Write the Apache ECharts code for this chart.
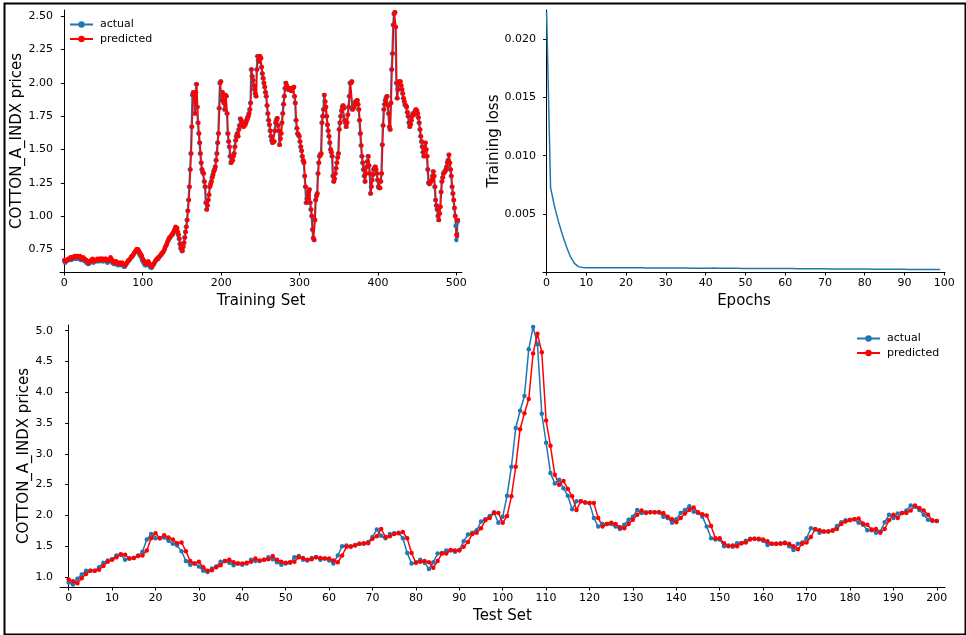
<!DOCTYPE html>
<html>
<head>
<meta charset="utf-8">
<script src="https://cdn.jsdelivr.net/npm/echarts@6/dist/echarts.min.js"></script>
<style>
  html, body { margin: 0; padding: 0; background: #fff; }
  #main { width: 966px; height: 635px; }
</style>
</head>
<body>
<div id="main"></div>
<script>
// training set (index 0..502)
var trainActual = [
  0.66,0.65,0.66,0.66,0.67,0.67,0.67,0.68,0.68,0.67,
  0.68,0.68,0.69,0.69,0.68,0.69,0.69,0.68,0.68,0.69,
  0.68,0.67,0.67,0.68,0.67,0.67,0.66,0.66,0.65,0.65,
  0.64,0.64,0.65,0.66,0.66,0.67,0.66,0.65,0.66,0.66,
  0.66,0.67,0.66,0.66,0.67,0.67,0.66,0.67,0.67,0.66,
  0.66,0.67,0.67,0.66,0.66,0.65,0.66,0.67,0.68,0.67,
  0.66,0.65,0.65,0.64,0.64,0.65,0.64,0.64,0.63,0.64,
  0.64,0.63,0.64,0.64,0.63,0.63,0.62,0.62,0.63,0.64,
  0.65,0.66,0.66,0.67,0.68,0.69,0.69,0.70,0.71,0.72,
  0.73,0.74,0.74,0.74,0.73,0.72,0.71,0.70,0.69,0.67,
  0.66,0.65,0.64,0.63,0.63,0.64,0.65,0.64,0.63,0.62,
  0.62,0.61,0.62,0.63,0.64,0.65,0.66,0.67,0.67,0.68,
  0.68,0.69,0.70,0.71,0.71,0.72,0.73,0.74,0.76,0.77,
  0.78,0.80,0.81,0.83,0.83,0.84,0.85,0.86,0.86,0.88,
  0.89,0.91,0.90,0.91,0.88,0.86,0.83,0.79,0.76,0.75,
  0.735,0.77,0.80,0.84,0.88,0.92,0.97,1.04,1.12,1.22,
  1.35,1.47,1.67,1.91,1.93,1.88,1.77,1.93,1.99,1.82,
  1.70,1.62,1.55,1.47,1.40,1.35,1.33,1.32,1.26,1.22,
  1.10,1.05,1.08,1.12,1.16,1.22,1.24,1.26,1.29,1.31,
  1.335,1.35,1.37,1.42,1.47,1.55,1.62,1.81,2.00,2.01,
  1.87,1.93,1.91,1.85,1.80,1.91,1.90,1.77,1.62,1.56,
  1.52,1.45,1.40,1.41,1.42,1.45,1.47,1.52,1.57,1.60,
  1.62,1.60,1.65,1.68,1.73,1.72,1.70,1.68,1.67,1.68,
  1.685,1.70,1.72,1.735,1.75,1.77,1.80,1.85,2.10,2.05,
  2.02,1.98,1.95,1.92,1.90,2.10,2.20,2.17,2.16,2.20,
  2.185,2.12,2.07,2.035,2.00,1.97,1.93,1.90,1.83,1.77,
  1.72,1.685,1.64,1.60,1.57,1.55,1.56,1.56,1.64,1.70,
  1.72,1.735,1.68,1.64,1.535,1.58,1.62,1.70,1.77,1.84,
  1.90,1.96,2.00,1.98,1.96,1.95,1.95,1.96,1.96,1.94,
  1.95,1.96,1.97,1.90,1.85,1.72,1.66,1.62,1.61,1.60,
  1.56,1.52,1.49,1.45,1.42,1.40,1.30,1.22,1.10,1.13,
  1.16,1.18,1.20,1.10,1.05,1.00,0.90,0.835,0.82,0.97,
  1.12,1.15,1.17,1.32,1.40,1.45,1.46,1.47,1.70,1.75,
  1.80,1.91,1.86,1.82,1.75,1.685,1.64,1.60,1.55,1.50,
  1.48,1.45,1.30,1.26,1.28,1.32,1.36,1.40,1.44,1.47,
  1.65,1.70,1.75,1.79,1.82,1.83,1.81,1.72,1.70,1.67,
  1.70,1.76,1.82,1.90,2.00,2.00,2.01,1.80,1.81,1.82,
  1.84,1.86,1.86,1.87,1.84,1.80,1.72,1.62,1.53,1.45,
  1.40,1.35,1.30,1.26,1.32,1.37,1.41,1.45,1.38,1.32,
  1.17,1.22,1.27,1.31,1.35,1.36,1.37,1.35,1.32,1.27,
  1.22,1.21,1.21,1.26,1.32,1.535,1.68,1.80,1.84,1.87,
  1.89,1.90,1.83,1.77,1.67,1.65,1.85,2.10,2.22,2.435,
  2.52,2.53,2.42,2.00,1.885,1.95,2.01,2.00,2.01,1.98,
  1.95,1.92,1.885,1.86,1.835,1.83,1.82,1.78,1.75,1.70,
  1.67,1.69,1.72,1.75,1.77,1.76,1.77,1.79,1.80,1.79,
  1.77,1.74,1.70,1.65,1.60,1.56,1.52,1.48,1.45,1.50,
  1.55,1.50,1.45,1.35,1.25,1.24,1.25,1.26,1.27,1.30,
  1.335,1.30,1.22,1.12,1.08,1.05,1.00,0.97,1.02,1.07,
  1.18,1.26,1.29,1.32,1.33,1.335,1.35,1.37,1.40,1.42,
  1.46,1.40,1.35,1.30,1.22,1.17,1.12,1.06,1.00,0.925,
  0.82,0.87,0.96
];
var trainPredicted = [
  0.67,0.67,0.66,0.67,0.67,0.68,0.68,0.68,0.69,0.69,
  0.68,0.69,0.69,0.70,0.70,0.69,0.70,0.70,0.69,0.69,
  0.70,0.69,0.68,0.68,0.69,0.68,0.68,0.67,0.67,0.66,
  0.66,0.65,0.65,0.66,0.67,0.67,0.68,0.67,0.66,0.67,
  0.67,0.67,0.68,0.67,0.67,0.68,0.68,0.67,0.68,0.68,
  0.67,0.67,0.68,0.68,0.67,0.67,0.66,0.67,0.68,0.69,
  0.68,0.67,0.66,0.66,0.65,0.65,0.66,0.65,0.65,0.64,
  0.65,0.65,0.64,0.65,0.65,0.64,0.64,0.63,0.63,0.64,
  0.65,0.66,0.67,0.67,0.68,0.69,0.70,0.70,0.71,0.72,
  0.73,0.74,0.75,0.75,0.75,0.74,0.73,0.72,0.71,0.70,
  0.68,0.67,0.66,0.65,0.64,0.64,0.65,0.66,0.65,0.64,
  0.63,0.63,0.62,0.63,0.64,0.65,0.66,0.67,0.68,0.68,
  0.69,0.69,0.70,0.71,0.72,0.72,0.73,0.74,0.75,0.77,
  0.78,0.79,0.81,0.82,0.84,0.84,0.85,0.86,0.87,0.87,
  0.89,0.90,0.92,0.91,0.91,0.88,0.86,0.83,0.79,0.76,
  0.75,0.74,0.77,0.80,0.84,0.88,0.92,0.97,1.04,1.12,
  1.22,1.35,1.47,1.67,1.91,1.93,1.88,1.77,1.93,1.99,
  1.82,1.70,1.62,1.55,1.47,1.40,1.35,1.33,1.32,1.26,
  1.22,1.10,1.05,1.08,1.12,1.16,1.22,1.24,1.26,1.29,
  1.31,1.335,1.35,1.37,1.42,1.47,1.55,1.62,1.81,2.00,
  2.01,1.87,1.93,1.91,1.85,1.80,1.91,1.90,1.77,1.62,
  1.56,1.52,1.45,1.40,1.41,1.42,1.45,1.47,1.52,1.57,
  1.60,1.62,1.60,1.65,1.68,1.73,1.72,1.70,1.68,1.67,
  1.68,1.685,1.70,1.72,1.735,1.75,1.77,1.80,1.85,2.10,
  2.05,2.02,1.98,1.95,1.92,1.90,2.10,2.20,2.17,2.16,
  2.20,2.185,2.12,2.07,2.035,2.00,1.97,1.93,1.90,1.83,
  1.77,1.72,1.685,1.64,1.60,1.57,1.55,1.56,1.56,1.64,
  1.70,1.72,1.735,1.68,1.64,1.535,1.58,1.62,1.70,1.77,
  1.84,1.90,1.96,2.00,1.98,1.96,1.95,1.95,1.96,1.96,
  1.94,1.95,1.96,1.97,1.90,1.85,1.72,1.66,1.62,1.61,
  1.60,1.56,1.52,1.49,1.45,1.42,1.40,1.30,1.22,1.10,
  1.13,1.16,1.18,1.20,1.10,1.05,1.00,0.90,0.835,0.82,
  0.97,1.12,1.15,1.17,1.32,1.40,1.45,1.46,1.47,1.70,
  1.75,1.80,1.91,1.86,1.82,1.75,1.685,1.64,1.60,1.55,
  1.50,1.48,1.45,1.30,1.26,1.28,1.32,1.36,1.40,1.44,
  1.47,1.65,1.70,1.75,1.79,1.82,1.83,1.81,1.72,1.70,
  1.67,1.70,1.76,1.82,1.90,2.00,2.00,2.01,1.80,1.81,
  1.82,1.84,1.86,1.86,1.87,1.84,1.80,1.72,1.62,1.53,
  1.45,1.40,1.35,1.30,1.26,1.32,1.37,1.41,1.45,1.38,
  1.32,1.17,1.22,1.27,1.31,1.35,1.36,1.37,1.35,1.32,
  1.27,1.22,1.21,1.21,1.26,1.32,1.535,1.68,1.80,1.84,
  1.87,1.89,1.90,1.83,1.77,1.67,1.65,1.85,2.10,2.22,
  2.435,2.52,2.53,2.42,2.00,1.885,1.95,2.01,2.00,2.01,
  1.98,1.95,1.92,1.885,1.86,1.835,1.83,1.82,1.78,1.75,
  1.70,1.67,1.69,1.72,1.75,1.77,1.76,1.77,1.79,1.80,
  1.79,1.77,1.74,1.70,1.65,1.60,1.56,1.52,1.48,1.45,
  1.50,1.55,1.50,1.45,1.35,1.25,1.24,1.25,1.26,1.27,
  1.30,1.335,1.30,1.22,1.12,1.08,1.05,1.00,0.97,1.02,
  1.07,1.18,1.26,1.29,1.32,1.33,1.335,1.35,1.37,1.40,
  1.42,1.46,1.40,1.35,1.30,1.22,1.17,1.12,1.06,1.00,
  0.86,0.85,0.97
];

// training loss per epoch (0..99)
var lossValues = [
  0.02234,0.00729,0.00563,0.00434,0.00320,0.00220,0.00134,0.00077,0.00049,0.00041,
  0.00040,0.00040,0.00040,0.00040,0.00040,0.00040,0.00040,0.00040,0.00039,0.00040,
  0.00040,0.00039,0.00039,0.00039,0.00039,0.00038,0.00038,0.00038,0.00038,0.00038,
  0.00037,0.00037,0.00037,0.00037,0.00037,0.00037,0.00036,0.00036,0.00036,0.00036,
  0.00036,0.00036,0.00037,0.00036,0.00035,0.00035,0.00035,0.00036,0.00035,0.00034,
  0.00034,0.00034,0.00034,0.00034,0.00033,0.00033,0.00033,0.00033,0.00033,0.00032,
  0.00032,0.00032,0.00032,0.00031,0.00031,0.00031,0.00031,0.00030,0.00030,0.00030,
  0.00030,0.00029,0.00029,0.00029,0.00029,0.00029,0.00028,0.00028,0.00028,0.00028,
  0.00028,0.00028,0.00027,0.00027,0.00027,0.00027,0.00026,0.00026,0.00026,0.00026,
  0.00026,0.00025,0.00025,0.00025,0.00025,0.00024,0.00024,0.00024,0.00024,0.00024
];

// test set (index 0..200)
var testActual = [
  0.91,0.88,0.97,1.04,1.10,1.10,1.10,1.16,1.23,1.27,
  1.29,1.35,1.36,1.28,1.30,1.31,1.35,1.41,1.61,1.70,
  1.63,1.63,1.64,1.59,1.54,1.51,1.42,1.26,1.20,1.22,
  1.17,1.10,1.08,1.14,1.17,1.25,1.26,1.23,1.19,1.22,
  1.20,1.22,1.28,1.26,1.26,1.28,1.32,1.29,1.24,1.20,
  1.22,1.23,1.32,1.34,1.28,1.27,1.31,1.32,1.28,1.30,
  1.27,1.22,1.35,1.50,1.51,1.50,1.52,1.54,1.54,1.57,
  1.65,1.77,1.67,1.63,1.70,1.71,1.72,1.63,1.39,1.22,
  1.24,1.28,1.23,1.13,1.24,1.38,1.39,1.43,1.43,1.41,
  1.44,1.58,1.69,1.72,1.76,1.90,1.94,1.99,2.05,1.88,
  1.98,2.32,2.79,3.42,3.70,3.94,4.70,5.06,4.78,3.65,
  3.18,2.69,2.52,2.58,2.44,2.32,2.10,2.23,2.23,2.21,
  2.20,1.96,1.82,1.86,1.86,1.86,1.82,1.78,1.85,1.93,
  1.98,2.09,2.04,2.05,2.05,2.05,2.05,1.98,1.96,1.88,
  1.94,2.04,2.09,2.15,2.06,2.04,1.98,1.82,1.63,1.61,
  1.61,1.50,1.51,1.49,1.55,1.55,1.59,1.62,1.62,1.61,
  1.59,1.52,1.54,1.54,1.55,1.56,1.50,1.44,1.54,1.56,
  1.63,1.79,1.77,1.72,1.74,1.74,1.76,1.83,1.89,1.92,
  1.93,1.94,1.88,1.85,1.76,1.76,1.72,1.74,1.89,2.01,
  1.96,2.03,2.04,2.08,2.16,2.14,2.09,2.01,1.93,1.91,
  1.91
];
var testPredicted = [
  0.96,0.93,0.90,0.98,1.05,1.10,1.10,1.12,1.18,1.25,
  1.28,1.32,1.37,1.36,1.30,1.31,1.34,1.35,1.43,1.63,
  1.71,1.63,1.68,1.64,1.61,1.55,1.56,1.42,1.26,1.22,
  1.25,1.16,1.10,1.11,1.16,1.19,1.26,1.28,1.24,1.22,
  1.22,1.23,1.25,1.30,1.27,1.28,1.29,1.34,1.28,1.25,
  1.23,1.24,1.25,1.32,1.31,1.28,1.29,1.32,1.31,1.30,
  1.30,1.27,1.24,1.35,1.49,1.49,1.51,1.54,1.55,1.55,
  1.62,1.66,1.78,1.65,1.66,1.70,1.71,1.73,1.63,1.39,
  1.23,1.25,1.26,1.24,1.15,1.26,1.38,1.38,1.44,1.43,
  1.43,1.49,1.57,1.70,1.72,1.79,1.92,1.96,2.04,2.04,
  1.88,1.99,2.31,2.79,3.40,3.66,3.89,4.63,4.95,4.65,
  3.54,3.13,2.66,2.50,2.56,2.43,2.31,2.09,2.23,2.21,
  2.20,2.20,1.96,1.82,1.86,1.88,1.86,1.81,1.79,1.86,
  1.93,2.01,2.08,2.04,2.05,2.05,2.05,2.04,1.98,1.94,
  1.89,1.96,2.03,2.09,2.13,2.05,2.02,2.00,1.83,1.63,
  1.63,1.55,1.50,1.51,1.50,1.55,1.56,1.61,1.62,1.62,
  1.61,1.58,1.54,1.54,1.54,1.55,1.54,1.50,1.45,1.54,
  1.56,1.65,1.78,1.76,1.74,1.74,1.75,1.78,1.86,1.90,
  1.92,1.94,1.95,1.87,1.85,1.77,1.78,1.72,1.78,1.92,
  2.01,1.96,2.04,2.04,2.08,2.16,2.12,2.08,2.01,1.92,
  1.91
];

// tick labels
var trainXTicks = [0, 100, 200, 300, 400, 500];
var trainYTicks = [0.75, 1.00, 1.25, 1.50, 1.75, 2.00, 2.25, 2.50];
var lossXTicks = [0, 10, 20, 30, 40, 50, 60, 70, 80, 90, 100];
var lossYTicks = [0.005, 0.010, 0.015, 0.020];
var testXTicks = [0, 10, 20, 30, 40, 50, 60, 70, 80, 90, 100, 110, 120, 130, 140, 150, 160, 170, 180, 190, 200];
var testYTicks = [1.0, 1.5, 2.0, 2.5, 3.0, 3.5, 4.0, 4.5, 5.0];

var BLUE = '#1f77b4', RED = '#ff0000', FONT = 'DejaVu Sans';

function pairs(arr) {
  return arr.map(function (v, i) { return [i, v]; });
}

function xAxisOf(grid, min, max, ticks, name) {
  return {
    type: 'value', gridIndex: grid, min: min, max: max,
    name: name, nameLocation: 'middle', nameGap: 22, nameMoveOverlap: false,
    nameTextStyle: { fontFamily: FONT, fontSize: 15, color: '#000', verticalAlign: 'top' },
    axisLine: { show: true, onZero: false, lineStyle: { color: '#000', width: 1 } },
    axisTick: { show: true, length: 3.5, lineStyle: { color: '#000' }, customValues: ticks },
    axisLabel: { fontFamily: FONT, fontSize: 11, color: '#000', margin: 6, customValues: ticks },
    splitLine: { show: false }
  };
}

function yAxisOf(grid, min, max, ticks, digits, name, gap) {
  return {
    type: 'value', gridIndex: grid, min: min, max: max,
    name: name, nameLocation: 'middle', nameGap: gap, nameMoveOverlap: false,
    nameTextStyle: { fontFamily: FONT, fontSize: 15, color: '#000' },
    axisLine: { show: true, lineStyle: { color: '#000', width: 1 } },
    axisTick: { show: true, length: 3.5, lineStyle: { color: '#000' }, customValues: ticks },
    axisLabel: {
      fontFamily: FONT, fontSize: 11, color: '#000', margin: 7, customValues: ticks,
      formatter: function (v) { return v.toFixed(digits); }
    },
    splitLine: { show: false }
  };
}

function lineSeries(name, color, grid, data) {
  return {
    name: name, type: 'line', xAxisIndex: grid, yAxisIndex: grid,
    data: pairs(data), symbol: 'circle', symbolSize: 4.5,
    itemStyle: { color: color }, lineStyle: { color: color, width: 1.5 }
  };
}

var myChart = echarts.init(document.getElementById('main'));
var option = {
  animation: false,
  backgroundColor: '#fff',
  grid: [
    { left: 60, top: 10, width: 402, height: 262 },
    { left: 543, top: 10, width: 402, height: 262 },
    { left: 60, top: 325, width: 885, height: 262 }
  ],
  legend: [
    {
      data: ['actual', 'predicted'], orient: 'vertical', left: 69, top: 19,
      itemWidth: 23, itemHeight: 8, itemGap: 3.5, padding: 0,
      textStyle: { fontFamily: FONT, fontSize: 11, color: '#000', padding: [0, 0, 0, 2] }
    },
    {
      data: ['actual', 'predicted'], orient: 'vertical', left: 856, top: 333,
      itemWidth: 23, itemHeight: 8, itemGap: 3.5, padding: 0,
      textStyle: { fontFamily: FONT, fontSize: 11, color: '#000', padding: [0, 0, 0, 2] }
    }
  ],
  xAxis: [
    xAxisOf(0, -5.5, 507.2, trainXTicks, 'Training Set'),
    xAxisOf(1, -0.9, 100.2, lossXTicks, 'Epochs'),
    xAxisOf(2, -2, 201.9, testXTicks, 'Test Set')
  ],
  yAxis: [
    yAxisOf(0, 0.58, 2.5475, trainYTicks, 2, 'COTTON_A_INDX prices', 35),
    yAxisOf(1, 0.00003, 0.02249, lossYTicks, 3, 'Training loss', 41),
    yAxisOf(2, 0.838, 5.092, testYTicks, 1, 'COTTON_A_INDX prices', 28)
  ],
  series: [
    lineSeries('actual', BLUE, 0, trainActual),
    lineSeries('predicted', RED, 0, trainPredicted),
    {
      name: 'loss', type: 'line', xAxisIndex: 1, yAxisIndex: 1,
      data: pairs(lossValues), showSymbol: false, symbol: 'none',
      lineStyle: { color: BLUE, width: 1.5 }, itemStyle: { color: BLUE }
    },
    lineSeries('actual', BLUE, 2, testActual),
    lineSeries('predicted', RED, 2, testPredicted)
  ],
  graphic: [
    {
      type: 'rect', left: 2, top: 1, silent: true,
      shape: { width: 961, height: 631 },
      style: { fill: 'none', stroke: '#000', lineWidth: 2 }
    }
  ]
};
myChart.setOption(option);
</script>
</body>
</html>
